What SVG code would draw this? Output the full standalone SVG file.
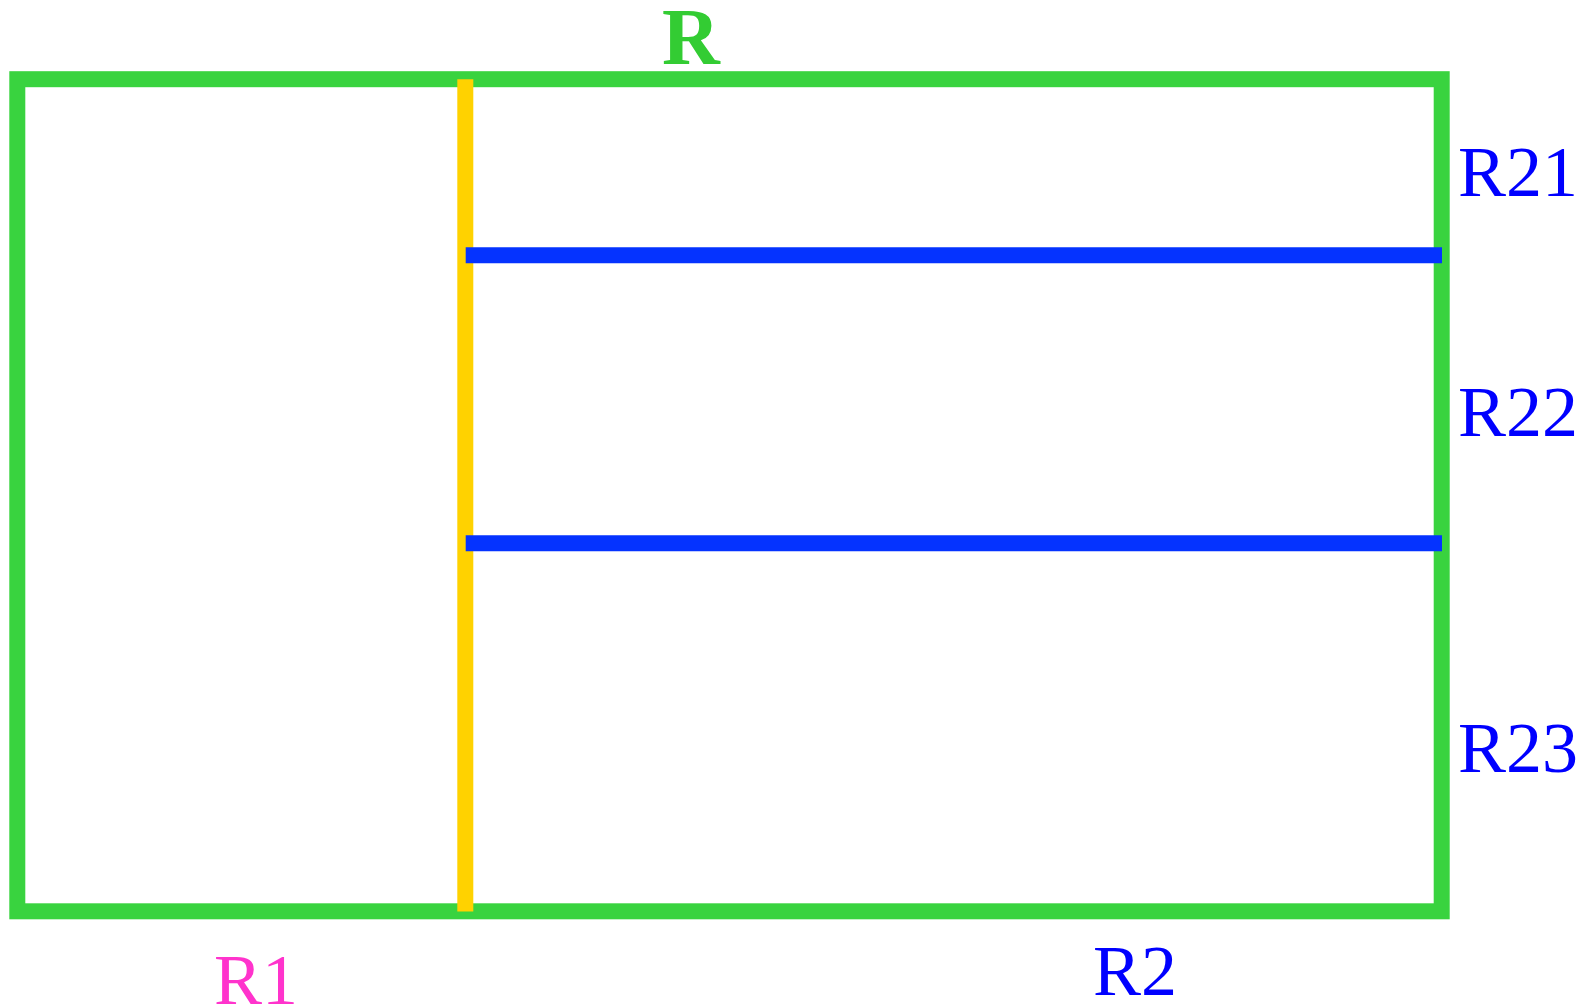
<svg xmlns="http://www.w3.org/2000/svg" width="1591" height="1008" viewBox="0 0 1591 1008">
<style>
text{font-family:"Liberation Serif","Times New Roman",serif;}
.lbl{font-size:72px;}
.blue{fill:#0000FF;}
</style>
<rect width="1591" height="1008" fill="#fff"/>
<g id="outer">
<rect x="17.3" y="79.2" width="1424.4" height="832.1" fill="none" stroke="#39D33F" stroke-width="16"/>
</g>
<g id="connectors">
<line x1="465.3" y1="79.2" x2="465.3" y2="911.5" stroke="#FFD200" stroke-width="16"/>
<line x1="465.7" y1="255.3" x2="1442" y2="255.3" stroke="#0533FF" stroke-width="16"/>
<line x1="465.7" y1="543.3" x2="1442" y2="543.3" stroke="#0533FF" stroke-width="16"/>
</g>
<g id="labels">
<text x="691" y="64" font-size="80" font-weight="bold" fill="#33CC33" text-anchor="middle">R</text>
<text class="lbl blue" x="1458" y="196">R21</text>
<text class="lbl blue" x="1458" y="436">R22</text>
<text class="lbl blue" x="1458" y="772">R23</text>
<text class="lbl" x="214" y="1004" fill="#FF33CC">R1</text>
<text class="lbl blue" x="1093" y="995">R2</text>
</g>
</svg>
